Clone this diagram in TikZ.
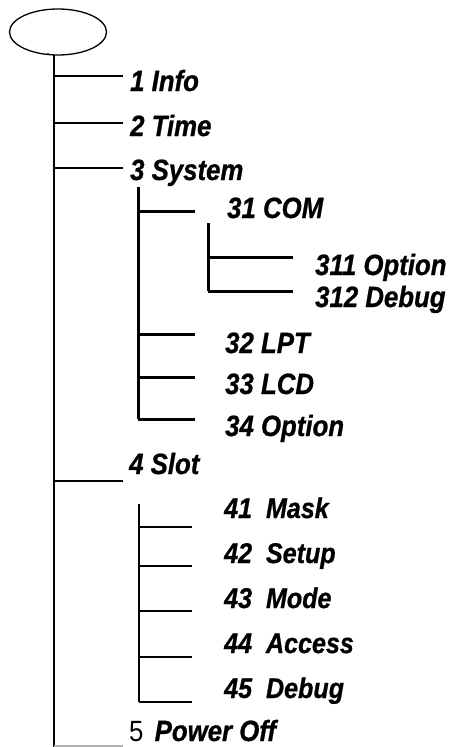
\documentclass[tikz,border=0pt]{standalone}
\usepackage{fontspec}
\setmainfont{Liberation Sans}[FakeStretch=0.88, BoldItalicFeatures={FakeBold=0.8}]
\usetikzlibrary{shapes.geometric}
\begin{document}
\begin{tikzpicture}[x=1pt,y=-1pt,
  lbl/.style={anchor=base west, inner sep=0pt, font=\fontsize{29.3}{30}\selectfont\bfseries\itshape},
  lbls/.style={anchor=base west, inner sep=0pt, font=\fontsize{28.5}{30}\selectfont\bfseries\itshape},
  trunkline/.style={line width=1.3pt},
  heavyline/.style={line width=3pt},
  midline/.style={line width=1.6pt}]
\useasboundingbox (0,0) rectangle (456,747);
% root
\node[draw, ellipse, line width=1.3pt, minimum width=97pt, minimum height=46pt, inner sep=0pt] (root) at (58,32) {};
\node[anchor=base, inner sep=0pt, font=\fontsize{18}{18}\selectfont] (dot) at (48,55) {.};
% labels
\node[lbl] (n1) at (130,91) {1 Info};
\node[lbl] (n2) at (130,136) {2 Time};
\node[lbl] (n3) at (130,180) {3 System};
\node[lbl] (n31) at (227,218) {31 COM};
\node[lbl] (n311) at (315,275) {311 Option};
\node[lbl] (n312) at (315,307) {312 Debug};
\node[lbl] (n32) at (225,353) {32 LPT};
\node[lbl] (n33) at (225,394) {33 LCD};
\node[lbl] (n34) at (225,436) {34 Option};
\node[lbl] (n4) at (129,474) {4 Slot};
\node[lbls] (n41) at (224,518) {41\ \ Mask};
\node[lbls] (n42) at (224,563) {42\ \ Setup};
\node[lbls] (n43) at (224,608) {43\ \ Mode};
\node[lbls] (n44) at (224,653) {44\ \ Access};
\node[lbls] (n45) at (224,698) {45\ \ Debug};
\node[lbl] (n5) at (129,741) {{\mdseries\upshape 5}\hspace{4pt} Power Off};
% trunk
\coordinate (t0) at (54,55);
\coordinate (t1) at (54,747);
\draw[trunkline] (t0) -- (t1);
\coordinate (b1a) at (54,76);  \coordinate (b1b) at (123,76);
\coordinate (b2a) at (54,123); \coordinate (b2b) at (123,123);
\coordinate (b3a) at (54,168); \coordinate (b3b) at (123,168);
\coordinate (b4a) at (54,481); \coordinate (b4b) at (123,481);
\coordinate (b5a) at (54,746); \coordinate (b5b) at (123,746);
\draw[midline] (b1a) -- (b1b);
\draw[midline] (b2a) -- (b2b);
\draw[midline] (b3a) -- (b3b);
\draw[midline] (b4a) -- (b4b);
\draw[line width=1.2pt, gray!60] (b5a) -- (b5b);
% subtree 3
\coordinate (s3top) at (138,187);
\coordinate (s3bot) at (138,419);
\draw[heavyline] (s3top) -- (s3bot);
\coordinate (c31) at (138,211);  \coordinate (e31) at (195,211);
\coordinate (c32) at (138,334);  \coordinate (e32) at (195,334);
\coordinate (c33) at (138,377);  \coordinate (e33) at (195,377);
\coordinate (e34) at (195,419);
\draw[heavyline] (c31) -- (e31);
\draw[heavyline] (c32) -- (e32);
\draw[heavyline] (c33) -- (e33);
\draw[heavyline] (s3bot) -- (e34);
% subtree 31
\coordinate (s31top) at (208,223);
\coordinate (s31bot) at (208,291);
\draw[heavyline] (s31top) -- (s31bot);
\coordinate (c311) at (208,257); \coordinate (e311) at (293,257);
\coordinate (e312) at (293,291);
\draw[heavyline] (c311) -- (e311);
\draw[heavyline] (s31bot) -- (e312);
% subtree 4
\coordinate (s4top) at (139,504);
\coordinate (s4bot) at (139,702);
\draw[midline] (s4top) -- (s4bot);
\coordinate (c41) at (139,527); \coordinate (e41) at (192,527);
\coordinate (c42) at (139,566); \coordinate (e42) at (192,566);
\coordinate (c43) at (139,611); \coordinate (e43) at (192,611);
\coordinate (c44) at (139,657); \coordinate (e44) at (192,657);
\coordinate (e45) at (192,702);
\draw[midline] (c41) -- (e41);
\draw[midline] (c42) -- (e42);
\draw[midline] (c43) -- (e43);
\draw[midline] (c44) -- (e44);
\draw[midline] (s4bot) -- (e45);
\end{tikzpicture}
\end{document}
